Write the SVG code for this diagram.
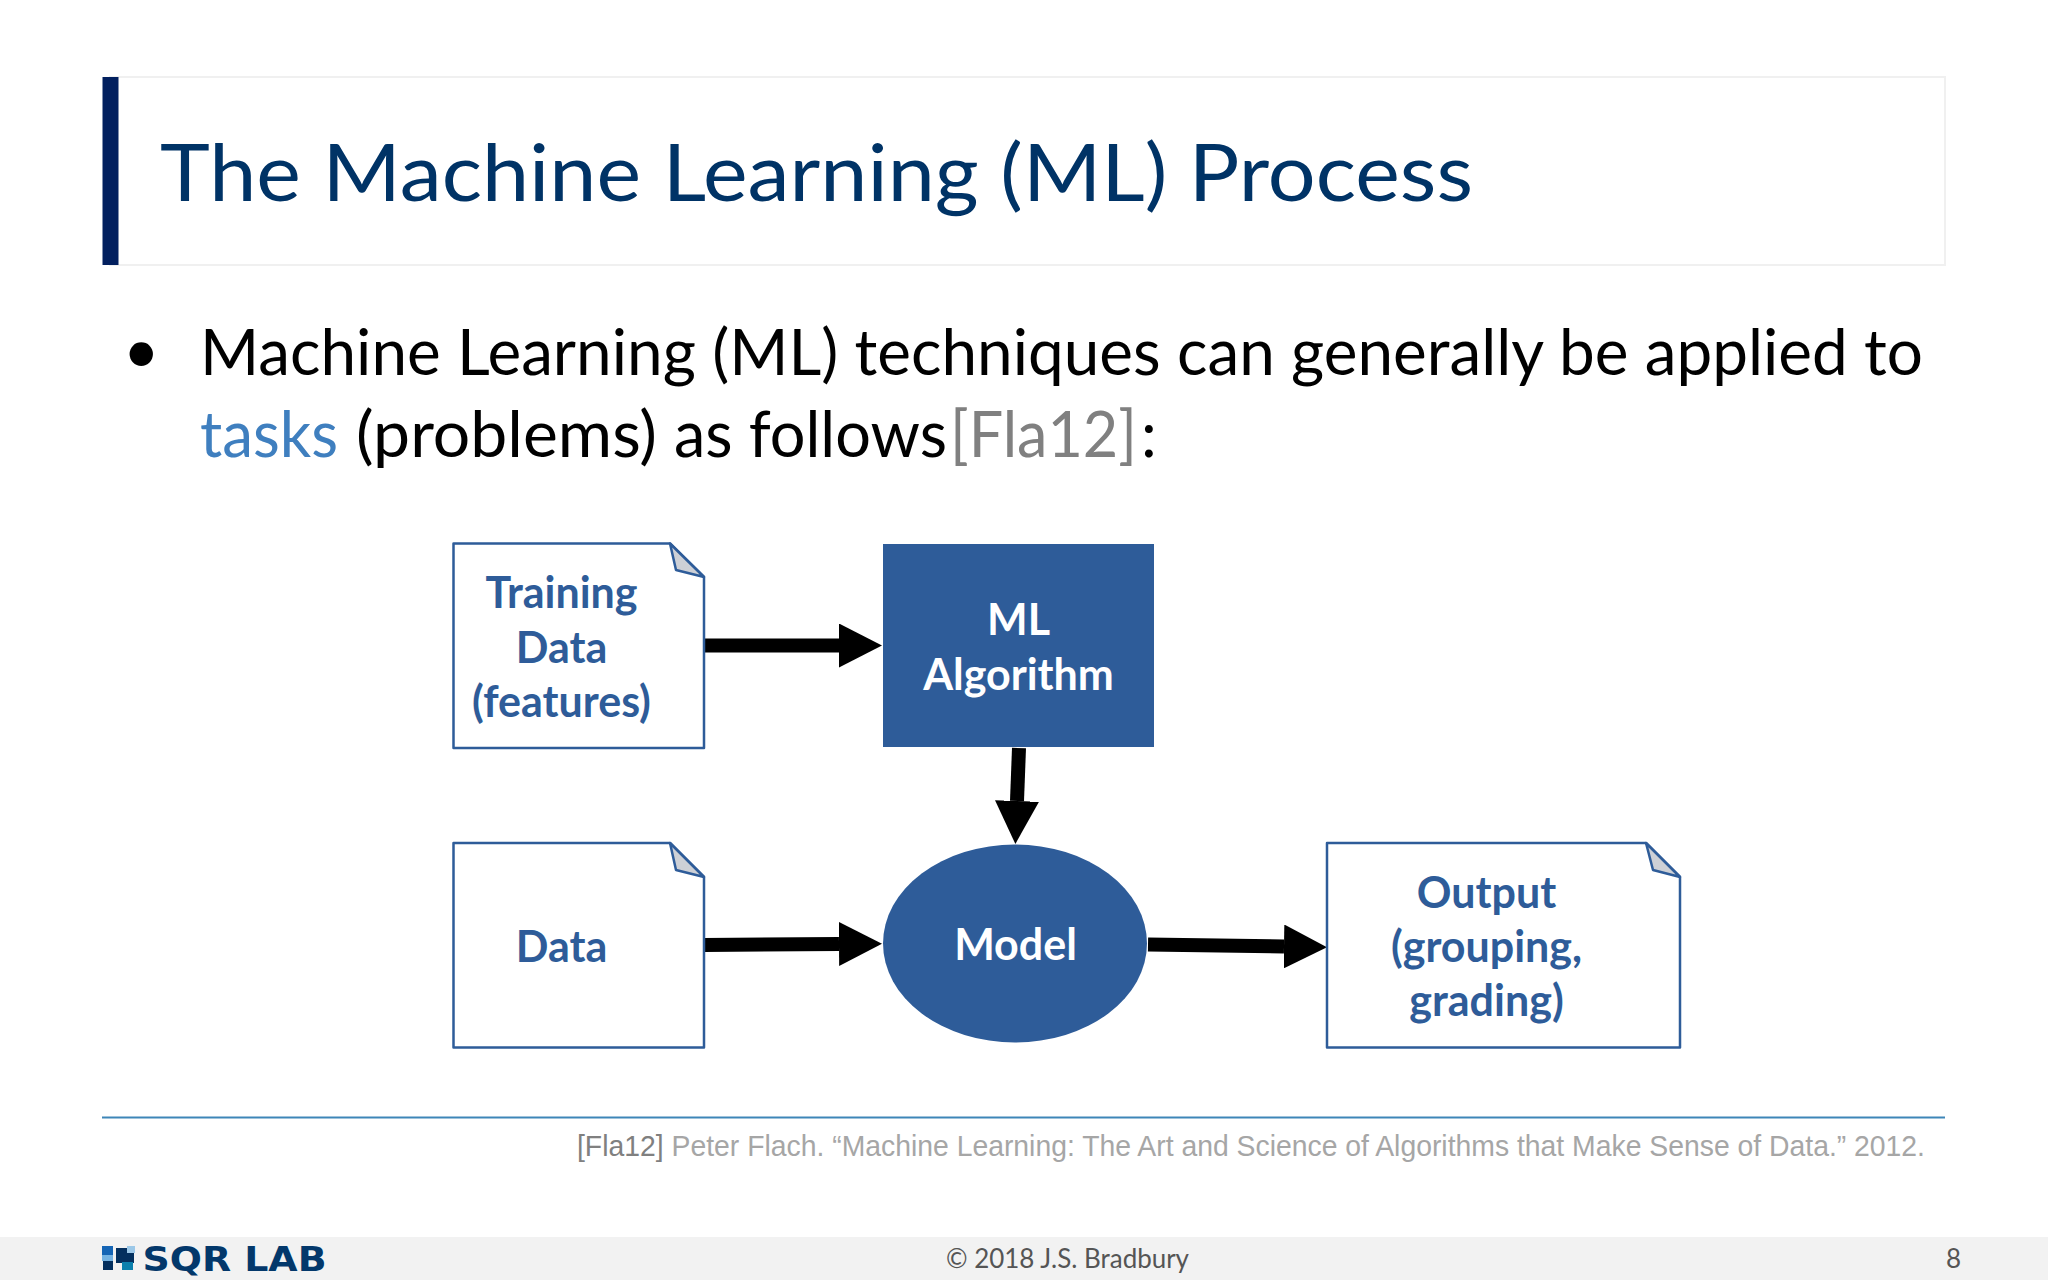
<svg xmlns="http://www.w3.org/2000/svg" width="2048" height="1280" viewBox="0 0 2048 1280">
<style>
text{font-family:Lato,"Open Sans","Liberation Sans",sans-serif}
.doc{fill:#fff;stroke:#2e5c99;stroke-width:2.5;stroke-linejoin:round}
.fold{fill:#cdd0d6;stroke:#2e5c99;stroke-width:2.5;stroke-linejoin:round}
.nl{font-weight:700;font-size:43px;fill:#2e5c99;text-anchor:middle}
.wl{font-weight:700;font-size:43px;fill:#fff;text-anchor:middle}
.solid{fill:#2e5c99}
.conn{stroke:#000;stroke-width:14;fill:none;marker-end:url(#head)}
.body{font-size:63px;fill:#000}
.cite{font-family:"Liberation Sans",Arial,sans-serif;font-size:29px;fill:#a6a6a6}
.foot{font-size:26px;fill:#555}
</style>
<defs>
<marker id="head" markerUnits="userSpaceOnUse" markerWidth="44" markerHeight="44" refX="0" refY="22" orient="auto" viewBox="0 0 44 44"><path d="M0,0L43,22L0,44Z" fill="#000"/></marker>
</defs>
<rect width="2048" height="1280" fill="#fff"/>
<g id="title">
<rect x="110" y="77" width="1835" height="188" fill="#fff" stroke="#f0f0f0" stroke-width="2"/>
<rect x="102.5" y="77" width="16" height="188" fill="#02205f"/>
<text x="160" y="201" font-size="80" fill="#003366" textLength="1313" lengthAdjust="spacingAndGlyphs">The Machine Learning (ML) Process</text>
</g>
<g id="bodytext">
<text x="123" y="373" class="body" font-size="60">•</text>
<text x="200" y="375" class="body" textLength="1723" lengthAdjust="spacingAndGlyphs">Machine Learning (ML) techniques can generally be applied to</text>
<text y="457" class="body"><tspan x="200" fill="#3f7fbf" textLength="138" lengthAdjust="spacingAndGlyphs">tasks</tspan> <tspan x="356" textLength="301" lengthAdjust="spacingAndGlyphs">(problems)</tspan> <tspan x="674" textLength="273" lengthAdjust="spacingAndGlyphs">as follows</tspan><tspan x="950" fill="#808080" textLength="187" lengthAdjust="spacingAndGlyphs">[Fla12]</tspan><tspan x="1141">:</tspan></text>
</g>
<g id="connectors">
<line class="conn" x1="704" y1="645.5" x2="839" y2="645.5"/>
<line class="conn" x1="1019" y1="748" x2="1017" y2="801"/>
<line class="conn" x1="704" y1="945" x2="839" y2="944"/>
<line class="conn" x1="1148" y1="944.5" x2="1284" y2="946.5"/>
</g>
<g id="training-data">
<path class="doc" d="M453.5,543.5H670L704,577V748H453.5Z"/>
<path class="fold" d="M670,543.5L676,570L704,577Z"/>
<text class="nl" x="561.5" y="607.5">Training</text>
<text class="nl" x="561.5" y="662.5">Data</text>
<text class="nl" x="561.5" y="716.5">(features)</text>
</g>
<g id="ml-algorithm">
<rect class="solid" x="883" y="544" width="271" height="203"/>
<text class="wl" x="1018.5" y="635">ML</text>
<text class="wl" x="1018.5" y="689.5">Algorithm</text>
</g>
<g id="data">
<path class="doc" d="M453.5,843H670L704,877V1047.5H453.5Z"/>
<path class="fold" d="M670,843L676,870L704,877Z"/>
<text class="nl" x="561.5" y="961.5">Data</text>
</g>
<g id="model">
<ellipse class="solid" cx="1015" cy="943.5" rx="132" ry="99"/>
<text class="wl" x="1015.5" y="959.5">Model</text>
</g>
<g id="output">
<path class="doc" d="M1327,843H1646L1680,877V1047.5H1327Z"/>
<path class="fold" d="M1646,843L1653,870L1680,877Z"/>
<text class="nl" x="1486.5" y="907.5">Output</text>
<text class="nl" x="1486.5" y="961.5">(grouping,</text>
<text class="nl" x="1486.5" y="1015.5">grading)</text>
</g>
<g id="citation">
<rect x="102" y="1116.5" width="1843" height="2" fill="#3e86b8"/>
<text class="cite" x="577" y="1155.5" textLength="1348" lengthAdjust="spacingAndGlyphs"><tspan fill="#808080">[Fla12]</tspan> Peter Flach. “Machine Learning: The Art and Science of Algorithms that Make Sense of Data.” 2012.</text>
</g>
<g id="footer">
<rect x="0" y="1237" width="2048" height="43" fill="#f2f2f2"/>
<rect x="102" y="1246" width="11" height="9" fill="#1565b5"/>
<rect x="102" y="1255" width="11" height="6" fill="#74b3e3"/>
<rect x="103" y="1261" width="10" height="9" fill="#04305f"/>
<rect x="116" y="1248" width="18" height="15" fill="#04305f"/>
<rect x="127" y="1246" width="8" height="7" fill="#9cc8e8"/>
<rect x="122" y="1262" width="11" height="8" fill="#0b80ad"/>
<text x="142.5" y="1271" font-size="34" font-weight="700" fill="#03386b" textLength="184" lengthAdjust="spacingAndGlyphs" style="font-family:'DejaVu Sans',sans-serif">SQR LAB</text>
<text class="foot" x="946" y="1268" textLength="243" lengthAdjust="spacingAndGlyphs">© 2018 J.S. Bradbury</text>
<text class="foot" x="1946" y="1268">8</text>
</g>
</svg>
